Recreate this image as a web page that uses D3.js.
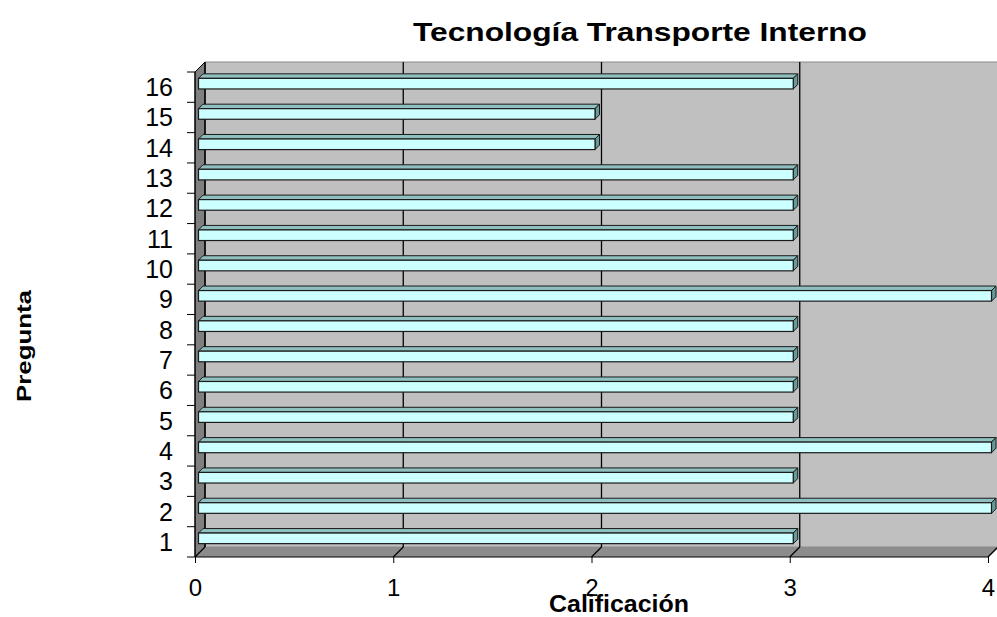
<!DOCTYPE html>
<html>
<head>
<meta charset="utf-8">
<script src="https://cdn.jsdelivr.net/npm/d3@7"></script>
<style>
  body { margin: 0; background: #fff; }
  svg { display: block; font-family: Arial, "Liberation Sans", sans-serif; }
</style>
</head>
<body>
<div class="chart"></div>
<script>
var preguntas = ['1','2','3','4','5','6','7','8','9','10','11','12','13','14','15','16'];
var calificacion = [3, 4, 3, 4, 3, 3, 3, 3, 4, 3, 3, 3, 3, 2, 2, 3];
var xTicks = [0, 1, 2, 3, 4];

var W = 997, H = 617;
var depth = 10;          // wall depth offset
var barFront = 3.5, barDepth = 4.5, barH = 10.6;

var svg = d3.select('.chart')
            .append('svg')
            .attr('width', W)
            .attr('height', H);

var x = d3.scaleLinear().domain([0, 4]).range([195, 988]);
var y = d3.scaleBand().domain(preguntas.slice().reverse()).range([72, 557]);

var plotL = x(0), plotR = x(4), plotT = y.range()[0], plotB = y.range()[1];

// back wall
svg.append('rect')
   .attr('x', plotL + depth).attr('y', plotT - depth)
   .attr('width', plotR - plotL).attr('height', plotB - plotT)
   .attr('fill', '#C0C0C0')
   .attr('stroke', '#8a8a8a');

// left wall
svg.append('path')
   .attr('d', 'M' + plotL + ',' + plotT + 'L' + (plotL + depth) + ',' + (plotT - depth) +
              'L' + (plotL + depth) + ',' + (plotB - depth) + 'L' + plotL + ',' + plotB + 'Z')
   .attr('fill', '#808080')
   .attr('stroke', '#000').attr('stroke-width', 1);

// floor
svg.append('path')
   .attr('d', 'M' + plotL + ',' + plotB + 'L' + (plotL + depth) + ',' + (plotB - depth) +
              'L' + (plotR + depth) + ',' + (plotB - depth) + 'L' + plotR + ',' + plotB + 'Z')
   .attr('fill', '#8c8c8c');

// gridlines on back wall and floor
var grid = svg.append('g').attr('stroke', '#000').attr('stroke-width', 1.3);
xTicks.forEach(function(t) {
  grid.append('line')
      .attr('x1', x(t) + depth).attr('x2', x(t) + depth)
      .attr('y1', plotT - depth).attr('y2', plotB - depth);
  grid.append('line')
      .attr('x1', x(t) + depth).attr('y1', plotB - depth)
      .attr('x2', x(t)).attr('y2', plotB);
});

// bars
var bars = svg.append('g')
              .selectAll('g')
              .data(calificacion)
              .enter().append('g');

bars.each(function(v, i) {
  var g = d3.select(this);
  var cy = y(preguntas[i]) + y.bandwidth() / 2 - barFront;
  var fx0 = x(0) + barFront, fx1 = x(v) + barFront;
  var fy0 = cy - barH / 2, fy1 = cy + barH / 2;
  var d = barDepth;
  // top face
  g.append('path')
   .attr('d', 'M' + fx0 + ',' + fy0 + 'L' + (fx0 + d) + ',' + (fy0 - d) +
              'L' + (fx1 + d) + ',' + (fy0 - d) + 'L' + fx1 + ',' + fy0 + 'Z')
   .attr('fill', '#8fbfbf').attr('stroke', '#1a1a1a').attr('stroke-width', 1);
  // side face
  g.append('path')
   .attr('d', 'M' + fx1 + ',' + fy0 + 'L' + (fx1 + d) + ',' + (fy0 - d) +
              'L' + (fx1 + d) + ',' + (fy1 - d) + 'L' + fx1 + ',' + fy1 + 'Z')
   .attr('fill', '#669999').attr('stroke', '#1a1a1a').attr('stroke-width', 1);
  // front face
  g.append('rect')
   .attr('x', fx0).attr('y', fy0)
   .attr('width', fx1 - fx0).attr('height', barH)
   .attr('fill', '#CCFFFF').attr('stroke', '#1a1a1a').attr('stroke-width', 1.2);
});

// y axis: ticks at band edges, labels at centres
var yAxis = svg.append('g');
yAxis.append('line')
     .attr('x1', plotL).attr('x2', plotL).attr('y1', plotT).attr('y2', plotB)
     .attr('stroke', '#000');
var edges = preguntas.map(function(p) { return y(p); }).concat([plotB]);
yAxis.selectAll('line.tick')
     .data(edges)
     .enter().append('line')
     .attr('class', 'tick')
     .attr('x1', plotL - 8).attr('x2', plotL)
     .attr('y1', function(d) { return d; }).attr('y2', function(d) { return d; })
     .attr('stroke', '#000');
yAxis.selectAll('text')
     .data(preguntas)
     .enter().append('text')
     .attr('x', 173)
     .attr('y', function(d) { return y(d) + y.bandwidth() / 2; })
     .attr('dy', '0.36em')
     .attr('text-anchor', 'end')
     .attr('font-size', 25)
     .text(function(d) { return d; });

// x axis
var xAxis = svg.append('g')
               .attr('transform', 'translate(0,' + plotB + ')')
               .call(d3.axisBottom(x).tickValues(xTicks).tickFormat(d3.format('d'))
                       .tickSize(6).tickPadding(16));
xAxis.select('.domain').remove();
xAxis.selectAll('text').attr('font-size', 24).attr('fill', '#000')
     .attr('font-family', 'Arial, "Liberation Sans", sans-serif');
xAxis.selectAll('line').attr('stroke', '#000');
svg.append('line')
   .attr('x1', plotL).attr('x2', plotR).attr('y1', plotB).attr('y2', plotB)
   .attr('stroke', '#000');

// titles
svg.append('text')
   .attr('x', 413).attr('y', 41)
   .attr('font-size', 25).attr('font-weight', 'bold')
   .attr('textLength', 454).attr('lengthAdjust', 'spacingAndGlyphs')
   .text('Tecnología Transporte Interno');

svg.append('text')
   .attr('x', 549).attr('y', 612)
   .attr('font-size', 23).attr('font-weight', 'bold')
   .attr('textLength', 140).attr('lengthAdjust', 'spacingAndGlyphs')
   .text('Calificación');

svg.append('text')
   .attr('transform', 'translate(31,402) rotate(-90)')
   .attr('font-size', 20).attr('font-weight', 'bold')
   .attr('textLength', 112).attr('lengthAdjust', 'spacingAndGlyphs')
   .text('Pregunta');
</script>
</body>
</html>
